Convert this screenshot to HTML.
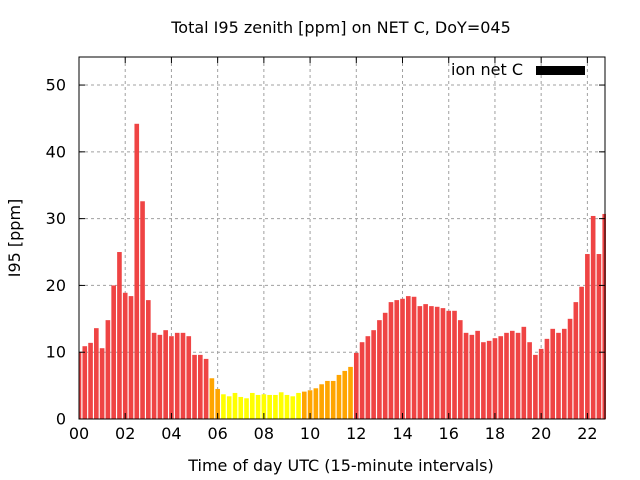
<!DOCTYPE html>
<html><head><meta charset="utf-8"><style>
body{margin:0;background:#fff}
svg{display:block;font-family:"DejaVu Sans","Liberation Sans",sans-serif}
</style></head><body>
<svg id="chart" width="640" height="480" viewBox="0 0 640 480" xmlns="http://www.w3.org/2000/svg">
<rect width="640" height="480" fill="#fff"/>
<text x="341" y="33" font-size="16" text-anchor="middle">Total I95 zenith [ppm] on NET C, DoY=045</text>
<text x="341" y="471" font-size="16" text-anchor="middle">Time of day UTC (15-minute intervals)</text>
<text transform="translate(20,238) rotate(-90)" font-size="16" text-anchor="middle">I95 [ppm]</text>
<g id="grid"></g><g id="bars"></g><g id="axes"></g>
<g>
<text x="523" y="75" font-size="16" text-anchor="end">ion net C</text>
<rect x="536" y="66" width="49" height="9" fill="#000"/>
</g>
</svg>
<script>
const values = [10.0,10.9,11.4,13.6,10.6,14.8,20.0,25.0,18.9,18.4,44.2,32.6,17.8,12.9,12.6,13.3,12.4,12.9,12.9,12.4,9.6,9.6,9.0,6.1,4.5,3.7,3.4,3.9,3.3,3.1,3.9,3.6,3.7,3.6,3.6,4.0,3.6,3.4,3.9,4.1,4.3,4.6,5.2,5.7,5.7,6.6,7.2,7.8,9.9,11.5,12.4,13.3,14.8,15.9,17.5,17.8,18.0,18.4,18.3,16.9,17.2,16.9,16.8,16.6,16.2,16.2,14.8,12.9,12.6,13.2,11.5,11.7,12.1,12.4,12.9,13.2,12.9,13.8,11.5,9.6,10.5,12.0,13.5,12.9,13.5,15.0,17.5,19.8,24.7,30.4,24.7,30.7];
const yTicks = [0,10,20,30,40,50];
const xTickLabels = ["00","02","04","06","08","10","12","14","16","18","20","22"];
const xTickHours = [0,2,4,6,8,10,12,14,16,18,20,22];

const L=79,R=605,T=57,B=419;
const xMax=91.05, yMax=54.2;
const xs=i=>L+i*(R-L)/xMax;
const ys=v=>B-v*(B-T)/yMax;
const NS="http://www.w3.org/2000/svg";
function mk(tag,attrs,parent){const e=document.createElementNS(NS,tag);for(const k in attrs)e.setAttribute(k,attrs[k]);parent.appendChild(e);return e;}
const grid=document.getElementById('grid'),barsG=document.getElementById('bars'),axes=document.getElementById('axes');
yTicks.forEach(v=>{
  if(v>0){const g=mk('line',{x1:L,x2:R,y1:ys(v),y2:ys(v),stroke:'#a0a0a0','stroke-dasharray':'3,3','stroke-width':1},grid);
  
  }
  const t=mk('text',{x:L-13,y:ys(v)+5.5,'font-size':16,'text-anchor':'end'},axes);t.textContent=v;
  
  
  mk('line',{x1:L,x2:L+6,y1:ys(v),y2:ys(v),stroke:'#000'},axes);
  mk('line',{x1:R,x2:R-6,y1:ys(v),y2:ys(v),stroke:'#000'},axes);
});
xTickHours.forEach((h,k)=>{
  const x=xs(h*4);
  if(h>0){const g=mk('line',{x1:x,x2:x,y1:T,y2:B,stroke:'#a0a0a0','stroke-dasharray':'3,3','stroke-width':1},grid);
  
  }
  const t=mk('text',{x:x,y:B+20,'font-size':16,'text-anchor':'middle'},axes);t.textContent=xTickLabels[k];
  
  
  mk('line',{x1:x,x2:x,y1:B,y2:B-6,stroke:'#000'},axes);
  mk('line',{x1:x,x2:x,y1:T,y2:T+6,stroke:'#000'},axes);
});
const bw=(R-L)/xMax*0.8;
values.forEach((v,i)=>{
  const c=v<4.05?'#ffff00':(v<9?'#ffa500':'#ef4444');
  let x0=xs(i)-bw/2,x1=xs(i)+bw/2;
  x0=Math.max(x0,L);x1=Math.min(x1,R+1);
  if(x1<=x0)return;
  const r=mk('rect',{x:x0,y:ys(v),width:x1-x0,height:B-ys(v),fill:c},barsG);
  
  
});
const f=mk('rect',{x:L,y:T,width:R-L,height:B-T,fill:'none',stroke:'#000','stroke-width':1},axes);


</script>
</body></html>
